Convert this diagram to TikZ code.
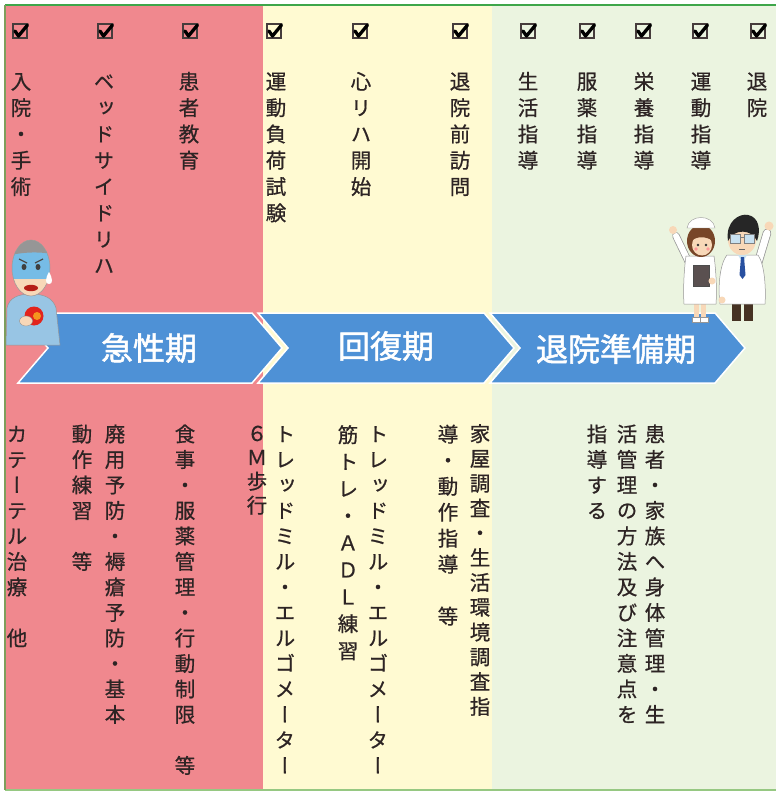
\documentclass[tikz,border=0pt]{standalone}
\usepackage{fontspec}
\newfontfamily\jp[FakeBold=1.6]{Noto Sans CJK JP}
\newfontfamily\jpv[RawFeature=+vert,FakeBold=0.7]{Noto Sans CJK JP}
\newcommand\colfont{\jpv\fontsize{20.5}{25}\selectfont}
\newcommand\phasefont{\jp\fontsize{32}{34}\selectfont}

% stacked vertical writing: one character per slot of fixed pitch
\ExplSyntaxOn
\dim_new:N \l_vcol_pitch_dim
\NewDocumentCommand \vcol { O{25.5pt} m }
  {
    \dim_set:Nn \l_vcol_pitch_dim {#1}
    \vbox:n
      {
        \offinterlineskip
        \tl_map_inline:nn {#2}
          {
            \hbox_to_wd:nn {1.2em}
              {
                \hss
                \vbox_to_ht:nn {\l_vcol_pitch_dim}
                  { \vss \hbox:n { \rule[-0.12em]{0pt}{1em} ##1 } \vss }
                \hss
              }
          }
      }
  }
\ExplSyntaxOff

\definecolor{acute}{RGB}{240,136,142}
\definecolor{recov}{RGB}{255,250,210}
\definecolor{disch}{RGB}{235,244,224}
\definecolor{ink}{RGB}{45,36,36}
\definecolor{chevblue}{RGB}{78,145,214}
\definecolor{framegreen}{RGB}{62,166,74}
\definecolor{frameolive}{RGB}{126,158,92}
\definecolor{framelight}{RGB}{150,200,130}
\definecolor{boxgray}{RGB}{70,60,60}
\definecolor{skin}{RGB}{248,216,184}
\definecolor{sweater}{RGB}{152,197,228}
\definecolor{paleblue}{RGB}{118,188,230}
\definecolor{hairgray}{RGB}{150,150,150}
\definecolor{heartred}{RGB}{226,36,28}
\definecolor{flame}{RGB}{245,150,30}
\definecolor{outl}{RGB}{150,150,150}
\definecolor{hairbrown}{RGB}{120,70,40}
\definecolor{clipgray}{RGB}{90,80,80}
\definecolor{pantbrown}{RGB}{70,50,35}
\definecolor{tieblue}{RGB}{40,80,160}
\definecolor{glass}{RGB}{200,225,240}

\tikzset{
  coltext/.style={anchor=north, inner sep=0pt, text=ink, font=\colfont},
  phase/.style={text=white, font=\phasefont, inner sep=0pt},
  chev/.style={fill=chevblue, draw=white, line width=1.5pt, line join=miter},
  chk/.pic={
    \draw[line width=1.6pt, draw=boxgray] (-7,-7) rectangle (7,7);
    \draw[line width=3.3pt, line cap=round, line join=round] (-5,0) -- (-1.5,5) -- (7.5,-6);
  },
}

\begin{document}
\begin{tikzpicture}[x=1pt,y=-1pt]
\useasboundingbox (0,0) rectangle (776,794);
\fill[white] (0,0) rectangle (776,794);

% three phase bands
\fill[acute] (5,5) rectangle (263,790);
\fill[recov] (263,5) rectangle (492,790);
\fill[disch] (492,5) rectangle (776,790);
\draw[framegreen, line width=2pt] (5,5) -- (776,5);
\draw[framelight, line width=2pt] (5,790) -- (776,790);
\draw[frameolive, line width=2pt] (5,5) -- (5,790);

% check boxes
\foreach \cx [count=\i] in {20,105,190,274,360,460,528,587,643,700,758}
  \pic (box\i) at (\cx,31) {chk};

% milestones
\node[coltext] (m1)  at (21,68)  {\vcol[26.3pt]{入院・手術}};
\node[coltext] (m2)  at (104,68) {\vcol[26.3pt]{ベッドサイドリハ}};
\node[coltext] (m3)  at (189,68) {\vcol[26.3pt]{患者教育}};
\node[coltext] (m4)  at (276,68) {\vcol[26.3pt]{運動負荷試験}};
\node[coltext] (m5)  at (361,68) {\vcol[26.3pt]{心リハ開始}};
\node[coltext] (m6)  at (460,68) {\vcol[26.3pt]{退院前訪問}};
\node[coltext] (m7)  at (528,68) {\vcol[26.3pt]{生活指導}};
\node[coltext] (m8)  at (587,68) {\vcol[26.3pt]{服薬指導}};
\node[coltext] (m9)  at (644,68) {\vcol[26.3pt]{栄養指導}};
\node[coltext] (m10) at (701,68) {\vcol[26.3pt]{運動指導}};
\node[coltext] (m11) at (757,68) {\vcol[26.3pt]{退院}};

% activities
\node[coltext] (a1)  at (17,421)  {\vcol{カテーテル治療　他}};
\node[coltext] (a2)  at (82,421)  {\vcol{動作練習　等}};
\node[coltext] (a3)  at (115,421) {\vcol{廃用予防・褥瘡予防・基本}};
\node[coltext] (a4)  at (185,421) {\vcol{食事・服薬管理・行動制限　等}};
\node[coltext] (a5)  at (257,421) {\vcol[24pt]{６Ｍ歩行}};
\node[coltext] (a6)  at (285,421) {\vcol{トレッドミル・エルゴメーター}};
\node[coltext] (a7)  at (348,421) {\vcol[27pt]{筋トレ・ＡＤＬ練習}};
\node[coltext] (a8)  at (378,421) {\vcol{トレッドミル・エルゴメーター}};
\node[coltext] (a9)  at (448,421) {\vcol[26pt]{導・動作指導　等}};
\node[coltext] (a10) at (480,421) {\vcol[24.8pt]{家屋調査・生活環境調査指}};
\node[coltext] (a11) at (597,421) {\vcol{指導する}};
\node[coltext] (a12) at (627,421) {\vcol{活管理の方法及び注意点を}};
\node[coltext] (a13) at (655,421) {\vcol{患者・家族へ身体管理・生}};

% phase chevrons
\draw[chev] (18,313) -- (252,313) -- (282,348) -- (252,383) -- (18,383) -- (48,348) -- cycle;
\draw[chev] (258,313) -- (484,313) -- (514,348) -- (484,383) -- (258,383) -- (288,348) -- cycle;
\draw[chev] (490,313) -- (715,313) -- (745,348) -- (715,383) -- (490,383) -- (520,348) -- cycle;
\node[phase] (p1) at (149,348) {急性期};
\node[phase] (p2) at (386,346) {回復期};
\node[phase] (p3) at (616,349) {退院準備期};

% patient holding his chest
\filldraw[fill=sweater, draw=outl, line width=.5pt] (6,345) -- (7,308) .. controls (9,298) and (18,294) .. (31,294) .. controls (44,294) and (53,298) .. (56,308) -- (60,345) -- cycle;
\begin{scope}
  \clip (31,268) ellipse [x radius=19, y radius=28];
  \fill[skin] (0,230) rectangle (60,300);
  \fill[paleblue] (0,251) rectangle (60,279);
  \fill[hairgray] (0,230) -- (60,230) -- (60,256) .. controls (45,251) and (20,251) .. (0,258) -- cycle;
\end{scope}
\draw[outl, line width=.5pt] (31,268) ellipse [x radius=19, y radius=28];
\fill[black!75] (24,267) ellipse [x radius=2.5, y radius=3];
\fill[black!75] (38,267) ellipse [x radius=2.5, y radius=3];
\draw[black!70, line width=1.2pt] (19,259) -- (27,263) (43,259) -- (35,263);
\fill[white] (49,272) .. controls (53,279) and (53,284) .. (49,284) .. controls (45,284) and (45,279) .. (49,272) -- cycle;
\fill[heartred!80!black] (31,288) ellipse [x radius=7, y radius=3.2];
\fill[heartred] (34,316) circle (9.5);
\fill[flame] (37,316) circle (4);
\filldraw[fill=skin, draw=outl, line width=.4pt] (26,321) ellipse [x radius=6.5, y radius=5];

% nurse
\draw[outl, line width=7.5pt, line cap=round] (689,263) -- (676,236);
\draw[white, line width=6pt, line cap=round] (689,263) -- (676,236);
\fill[skin] (673,230) circle (4);
\fill[skin] (694,300) rectangle (699,318);
\fill[skin] (701,300) rectangle (706,318);
\filldraw[fill=white, draw=outl, line width=.4pt] (692,317) rectangle (700,322);
\filldraw[fill=white, draw=outl, line width=.4pt] (700,317) rectangle (708,322);
\filldraw[fill=white, draw=outl, line width=.5pt] (686,256) .. controls (684,270) and (683,290) .. (684,304) -- (716,304) .. controls (717,290) and (716,270) .. (714,256) -- cycle;
\filldraw[fill=clipgray, draw=black!70, line width=.4pt] (693,265) rectangle (709,286);
\fill[skin] (712,281) circle (3.5);
\fill[hairbrown] (701,241) ellipse [x radius=14, y radius=16];
\fill[skin] (702,245) ellipse [x radius=10, y radius=10.5];
\fill[hairbrown] (691,241) .. controls (693,232) and (710,230) .. (713,241) .. controls (706,236) and (697,236) .. (691,241) -- cycle;
\filldraw[fill=white, draw=outl, line width=.4pt] (687,228) .. controls (689,214) and (713,214) .. (715,228) -- cycle;
\fill[black!80] (698,245) circle (1.3) (706,245) circle (1.3);
\fill[red!40] (696,249) circle (1.8) (708,249) circle (1.8);

% doctor
\fill[pantbrown] (732,300) rectangle (741,321);
\fill[pantbrown] (744,300) rectangle (753,321);
\draw[outl, line width=8.5pt, line cap=round] (758,263) -- (767,233);
\draw[white, line width=7pt, line cap=round] (758,263) -- (767,233);
\fill[skin] (769,226) circle (4.5);
\filldraw[fill=white, draw=outl, line width=.5pt] (727,255) .. controls (719,265) and (718,290) .. (720,304) -- (765,304) .. controls (766,290) and (765,265) .. (758,255) -- cycle;
\fill[skin] (722,300) circle (3.5);
\fill[glass] (738,255) -- (747,255) -- (742.5,263) -- cycle;
\fill[tieblue] (741,257) -- (744,257) -- (745.5,275) -- (742.5,279) -- (739.5,275) -- cycle;
\fill[skin] (742,240) ellipse [x radius=14, y radius=15];
\fill[black!85] (728,241) .. controls (725,221) and (740,213) .. (748,215) .. controls (759,217) and (761,230) .. (757,241) .. controls (752,229) and (734,228) .. (728,241) -- cycle;
\filldraw[fill=glass, draw=black!50, line width=.6pt] (730,234) rectangle (740,243);
\filldraw[fill=glass, draw=black!50, line width=.6pt] (744,234) rectangle (754,243);
\draw[black!50, line width=.6pt] (740,237) -- (744,237);
\draw[black!60, line width=.6pt] (739,249) -- (745,249);
\end{tikzpicture}
\end{document}
